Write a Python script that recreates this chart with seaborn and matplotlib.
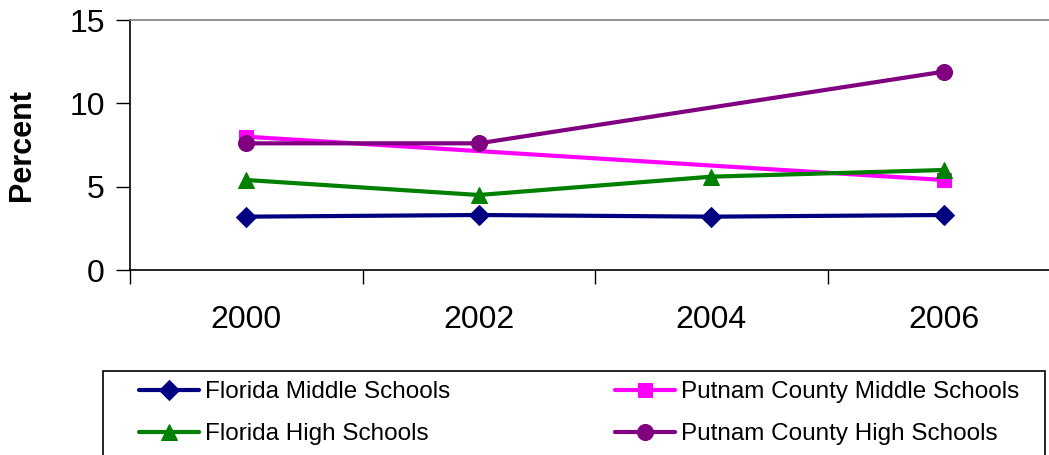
import numpy as np
import pandas as pd
import matplotlib
matplotlib.use("Agg")
import matplotlib.pyplot as plt
from matplotlib.patches import Rectangle
import seaborn as sns

years = ["2000", "2002", "2004", "2006"]
florida_middle = [3.2, 3.3, 3.2, 3.3]
putnam_middle = [8.0, np.nan, np.nan, 5.4]
florida_high = [5.4, 4.5, 5.6, 6.0]
putnam_high = [7.6, 7.6, np.nan, 11.9]

series_names = ["Florida Middle Schools", "Putnam County Middle Schools",
                "Florida High Schools", "Putnam County High Schools"]
series_values = [florida_middle, putnam_middle, florida_high, putnam_high]
colors = ["#000080", "#FF00FF", "#008000", "#800080"]
markers = ["D", "s", "^", "o"]
msizes = [10.5, 10.5, 12, 11.5]

sns.set_theme(style="white")
plt.rcParams['font.family'] = ['Liberation Sans', 'DejaVu Sans']
plt.rcParams['text.color'] = 'black'
plt.rcParams['axes.labelcolor'] = 'black'
plt.rcParams['xtick.color'] = 'black'
plt.rcParams['ytick.color'] = 'black'

fig = plt.figure(figsize=(10.49, 4.55), dpi=100)
W, H = 1049, 455
ax = fig.add_axes([130 / W, 1 - 270 / H, 930 / W, 250 / H])

handles = []
for name, vals, c, m, ms in zip(series_names, series_values, colors, markers, msizes):
    df = pd.DataFrame({"x": np.arange(len(years)), "y": vals}).dropna()
    sns.lineplot(data=df, x="x", y="y", ax=ax, color=c, marker=m, markersize=ms,
                 markeredgecolor=c, linewidth=3, label=name, legend=False)
    handles.append(ax.lines[-1])

ax.set_xlim(-0.5, len(years) - 0.5)
ax.set_ylim(0, 15)
ax.set_yticks([0, 5, 10, 15])
ax.set_xticks(np.arange(len(years) + 1) - 0.5)
ax.set_xticklabels([])
ax.set_xticks(np.arange(len(years)), minor=True)
ax.set_xticklabels(years, minor=True)
ax.tick_params(axis="x", which="major", direction="out", length=10, width=1,
               color="black", bottom=True)
ax.tick_params(axis="x", which="minor", length=0, pad=25, labelsize=23,
               labelcolor="black")
ax.tick_params(axis="y", which="major", direction="out", length=10, width=1,
               color="black", left=True, pad=8, labelsize=23, labelcolor="black")
ax.set_xlabel("")
ax.set_ylabel("Percent", fontsize=22, fontweight="bold", va="center", color="black")
ax.yaxis.set_label_coords((22 - 130) / 930, 0.5)

for s in ["left", "bottom"]:
    ax.spines[s].set_color("black")
    ax.spines[s].set_linewidth(1.2)
ax.spines["top"].set_color("#808080")
ax.spines["top"].set_linewidth(1.2)
ax.spines["right"].set_visible(False)

# legend frame
fig.patches.append(Rectangle((103 / W, -0.05), (1045 - 103) / W, (455 - 371) / H + 0.05,
                             transform=fig.transFigure, fill=False,
                             edgecolor="black", linewidth=1.2))
order = [0, 2, 1, 3]
leg = fig.legend([handles[i] for i in order], [series_names[i] for i in order],
                 ncol=2, loc="upper left", bbox_to_anchor=(139 / W, 1 - 381 / H),
                 frameon=False, fontsize=17.5, borderpad=0, borderaxespad=0,
                 handlelength=2.46, handletextpad=0.25, columnspacing=6.8,
                 labelspacing=0.84, labelcolor="black")

fig.savefig("out.png", dpi=100)
